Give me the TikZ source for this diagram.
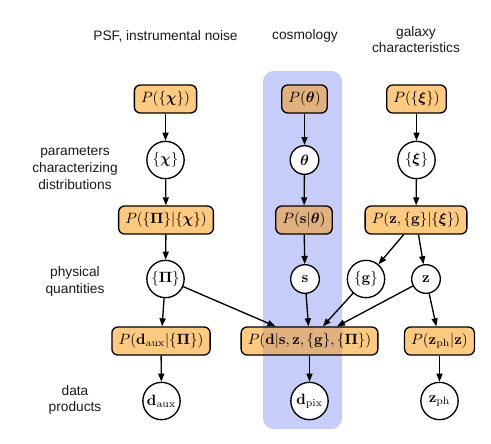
\RequirePackage{fix-cm}
\documentclass[tikz,border=0pt]{standalone}
\usepackage{amsmath}
\usepackage[no-math]{fontspec}
\setmainfont{Liberation Sans}
\usetikzlibrary{arrows.meta}
\definecolor{porange}{RGB}{251,150,0}
\definecolor{bandblue}{RGB}{198,205,249}
\newcommand\labfont{\fontsize{10.3}{12.5}\selectfont}
\newcommand\pmfont{\fontsize{11.2}{13}\selectfont}
\tikzset{
 pbox/.style={draw=black, line width=1pt, rounded corners=4.5pt, fill=porange, fill opacity=0.5, text opacity=1, draw opacity=1, minimum height=21pt, inner xsep=5pt, inner ysep=2pt, font=\pmfont},
 var/.style={circle, draw=black, line width=1pt, fill=white, inner sep=0pt, minimum size=28pt, font=\pmfont},
 svar/.style={var, minimum size=21.5pt},
 edge/.style={-{Triangle[length=6pt,width=4.5pt]}, line width=1pt},
 lab/.style={font=\labfont, align=center, text=black!90},
}
\begin{document}
\begin{tikzpicture}[x=0.75pt,y=-0.75pt]
\useasboundingbox (0,0) rectangle (491,443);
% band
\fill[bandblue, rounded corners=8pt] (263,71) rectangle (342,429);
% labels
\node[lab] (lpsf) at (165.5,36) {PSF, instrumental noise};
\node[lab] (lcos) at (305,36) {cosmology};
\node[lab] (lgal) at (416,39.5) {galaxy\\characteristics};
\node[lab] (lpar) at (75,168) {parameters\\characterizing\\distributions};
\node[lab] (lphy) at (75,281.5) {physical\\quantities};
\node[lab] (ldat) at (75,400) {data\\products};
% row 1
\node[pbox] (Pchi) at (165.5,99) {$P(\{\boldsymbol{\chi}\})$};
\node[pbox] (Ptheta) at (304.5,99) {$P(\boldsymbol{\theta})$};
\node[pbox] (Pxi) at (416.5,99) {$P(\{\boldsymbol{\xi}\})$};
% row 2
\node[var] (chi) at (165.5,160) {$\{\boldsymbol{\chi}\}$};
\node[svar] (theta) at (304.5,160) {$\boldsymbol{\theta}$};
\node[var] (xi) at (416.5,160) {$\{\boldsymbol{\xi}\}$};
% row 3
\node[pbox] (PPi) at (166,220) {$P(\{\mathbf{\Pi}\}|\{\boldsymbol{\chi}\})$};
\node[pbox] (Ps) at (304,220) {$P(\mathbf{s}|\boldsymbol{\theta})$};
\node[pbox] (Pzg) at (416,220) {$P(\mathbf{z},\{\mathbf{g}\}|\{\boldsymbol{\xi}\})$};
% row 4
\node[var] (Pi) at (165.5,279) {$\{\mathbf{\Pi}\}$};
\node[svar] (s) at (305,279) {$\mathbf{s}$};
\node[var] (g) at (366,279) {$\{\mathbf{g}\}$};
\node[svar] (z) at (426,279) {$\mathbf{z}$};
% row 5
\node[pbox] (Pdaux) at (161,341) {$P(\mathbf{d}_{\mathrm{aux}}|\{\mathbf{\Pi}\})$};
\node[pbox] (Pd) at (309.5,341) {$P(\mathbf{d}|\mathbf{s},\mathbf{z},\{\mathbf{g}\},\{\mathbf{\Pi}\})$};
\node[pbox] (Pzph) at (439.5,341) {$P(\mathbf{z}_{\mathrm{ph}}|\mathbf{z})$};
% row 6
\node[var] (daux) at (161.5,401) {$\mathbf{d}_{\mathrm{aux}}$};
\node[var] (dpix) at (309.5,401) {$\mathbf{d}_{\mathrm{pix}}$};
\node[var] (zph) at (439.5,401) {$\mathbf{z}_{\mathrm{ph}}$};
% edges
\draw[edge] (Pchi) -- (chi);
\draw[edge] (chi) -- (PPi);
\draw[edge] (PPi) -- (Pi);
\draw[edge] (Pi) -- (Pdaux);
\draw[edge] (Pdaux) -- (daux);
\draw[edge] (Pi) -- (Pd);
\draw[edge] (Ptheta) -- (theta);
\draw[edge] (theta) -- (Ps);
\draw[edge] (Ps) -- (s);
\draw[edge] (s) -- (Pd);
\draw[edge] (Pd) -- (dpix);
\draw[edge] (Pxi) -- (xi);
\draw[edge] (xi) -- (Pzg);
\draw[edge] (Pzg) -- (g);
\draw[edge] (Pzg) -- (z);
\draw[edge] (g) -- (Pd);
\draw[edge] (z) -- (Pd);
\draw[edge] (z) -- (Pzph);
\draw[edge] (Pzph) -- (zph);
\end{tikzpicture}
\end{document}
